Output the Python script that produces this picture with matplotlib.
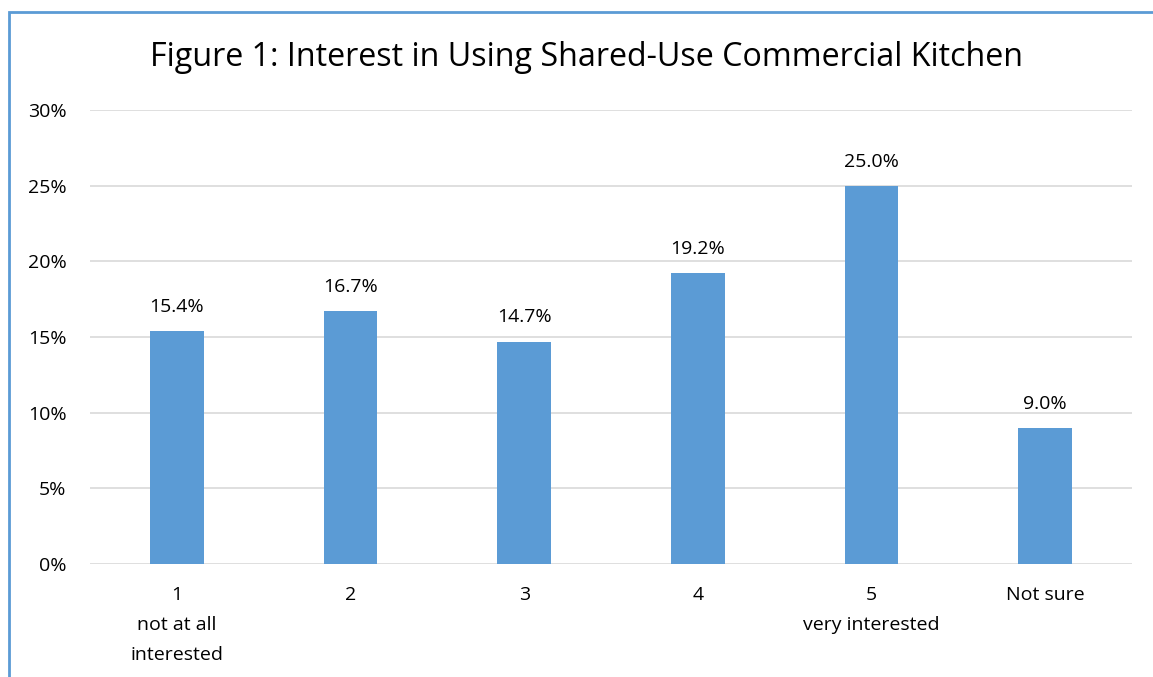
import numpy as np
import matplotlib.pyplot as plt
from matplotlib.patches import Rectangle
from matplotlib.ticker import FuncFormatter

plt.rcParams['font.family'] = ['Open Sans', 'DejaVu Sans']

categories = ['1\nnot at all\ninterested', '2', '3', '4', '5\nvery interested', 'Not sure']
shares = [15.4, 16.7, 14.7, 19.2, 25.0, 9.0]

bar_color = '#5b9bd5'
grid_color = '#d9d9d9'

fig = plt.figure(figsize=(11.53, 6.77), dpi=100)
ax = fig.add_axes([90 / 1153, 1 - 564 / 677, 1042 / 1153, 454 / 677])

x = np.arange(len(categories))
ax.bar(x, shares, width=0.31, color=bar_color, zorder=3)
for xi, v in zip(x, shares):
    ax.text(xi, v + 1.0, f'{v:.1f}%', ha='center', va='bottom', fontsize=14)

ax.set_xlim(-0.5, len(categories) - 0.5)
ax.set_ylim(0, 30)
ax.set_yticks(np.arange(0, 31, 5))
ax.yaxis.set_major_formatter(FuncFormatter(lambda v, _: f'{v:.0f}%'))
ax.set_xticks(x)
ax.set_xticklabels(categories, fontsize=14, linespacing=1.85)
ax.tick_params(axis='both', length=0, labelsize=14)
ax.tick_params(axis='x', pad=16)
ax.tick_params(axis='y', pad=17)
ax.grid(axis='y', color=grid_color, linewidth=1.2, zorder=0)
for s in ax.spines.values():
    s.set_visible(False)

fig.text(586 / 1153, 1 - 58 / 677, 'Figure 1: Interest in Using Shared-Use Commercial Kitchen',
         ha='center', va='center', fontsize=23.2)

# chart frame, cut off at the right and bottom edges
fig.add_artist(Rectangle((8.5 / 1153, -0.1), 1.2, 1 - 11.5 / 677 + 0.1,
                         transform=fig.transFigure, fill=False,
                         edgecolor=bar_color, linewidth=2))

fig.savefig('out.png', dpi=100)
